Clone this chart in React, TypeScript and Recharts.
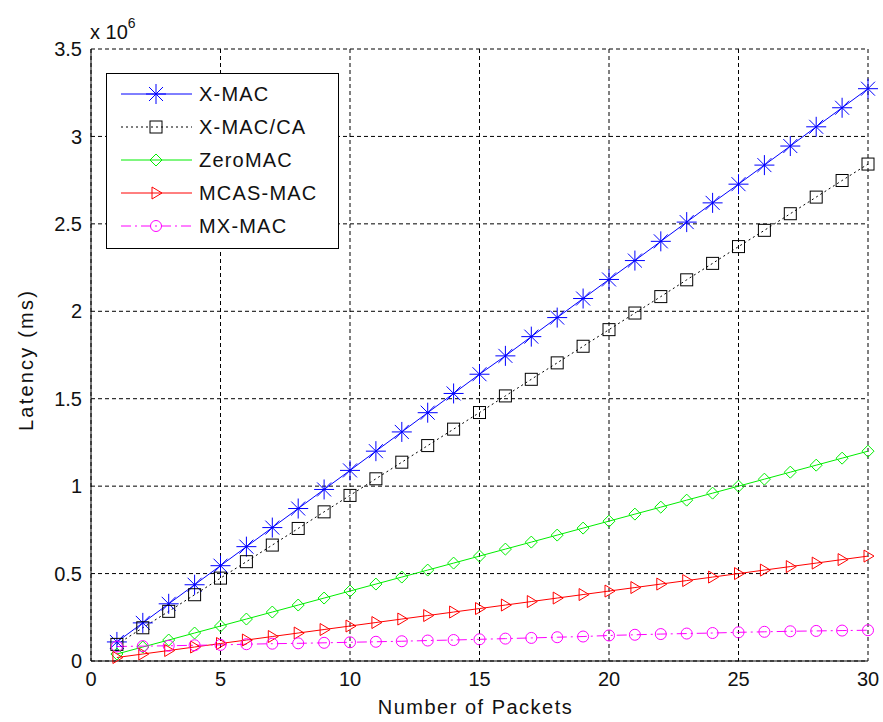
import React from 'react';
import { LineChart, Line, XAxis, YAxis, CartesianGrid } from 'recharts';

// values in units of 10^6 ms
const packets = [1, 2, 3, 4, 5, 6, 7, 8, 9, 10, 11, 12, 13, 14, 15, 16, 17, 18, 19, 20, 21, 22, 23, 24, 25, 26, 27, 28, 29, 30];
const xmac = [0.109, 0.218, 0.327, 0.436, 0.545, 0.654, 0.763, 0.872, 0.981, 1.09, 1.2, 1.31, 1.42, 1.53, 1.64, 1.745, 1.855, 1.964, 2.073, 2.182, 2.29, 2.4, 2.51, 2.62, 2.727, 2.836, 2.945, 3.055, 3.164, 3.273];
const xmacCa = [0.095, 0.19, 0.284, 0.379, 0.474, 0.568, 0.663, 0.758, 0.853, 0.947, 1.042, 1.137, 1.232, 1.326, 1.421, 1.516, 1.611, 1.705, 1.8, 1.895, 1.99, 2.084, 2.18, 2.274, 2.37, 2.463, 2.558, 2.653, 2.748, 2.842];
const zeroMac = [0.04, 0.08, 0.12, 0.16, 0.2, 0.24, 0.28, 0.32, 0.36, 0.4, 0.44, 0.48, 0.52, 0.56, 0.6, 0.64, 0.68, 0.72, 0.76, 0.8, 0.84, 0.88, 0.92, 0.96, 1.0, 1.04, 1.08, 1.12, 1.16, 1.2];
const mcasMac = [0.02, 0.04, 0.06, 0.08, 0.1, 0.12, 0.14, 0.16, 0.18, 0.2, 0.22, 0.24, 0.26, 0.28, 0.3, 0.32, 0.34, 0.36, 0.38, 0.4, 0.42, 0.44, 0.46, 0.48, 0.5, 0.52, 0.54, 0.56, 0.58, 0.6];
const mxMac = [0.083, 0.085, 0.087, 0.09, 0.092, 0.096, 0.099, 0.101, 0.104, 0.107, 0.11, 0.113, 0.117, 0.12, 0.124, 0.128, 0.132, 0.136, 0.14, 0.146, 0.15, 0.154, 0.157, 0.16, 0.164, 0.167, 0.17, 0.172, 0.174, 0.176];

const xTicks = [0, 5, 10, 15, 20, 25, 30];
const yTicks = [0, 0.5, 1, 1.5, 2, 2.5, 3, 3.5];

const data = packets.map((n, i) => ({
  n,
  xmac: xmac[i],
  xmacCa: xmacCa[i],
  zeroMac: zeroMac[i],
  mcasMac: mcasMac[i],
  mxMac: mxMac[i],
}));

const FONT = '"Liberation Sans", Arial, sans-serif';

type Kind = 'star' | 'square' | 'diamond' | 'tri' | 'circle';

const Marker = ({ kind, cx, cy, color }: { kind: Kind; cx: number; cy: number; color: string }) => {
  if (cx == null || cy == null) return null;
  const s = { stroke: color, strokeWidth: 1, fill: 'none' };
  switch (kind) {
    case 'star':
      return (
        <g {...s}>
          <line x1={cx - 10} y1={cy} x2={cx + 10} y2={cy} />
          <line x1={cx} y1={cy - 10} x2={cx} y2={cy + 10} />
          <line x1={cx - 7} y1={cy - 7} x2={cx + 7} y2={cy + 7} />
          <line x1={cx - 7} y1={cy + 7} x2={cx + 7} y2={cy - 7} />
        </g>
      );
    case 'square':
      return <rect x={cx - 6} y={cy - 6} width={12} height={12} {...s} />;
    case 'diamond':
      return <polygon points={`${cx},${cy - 6} ${cx + 6},${cy} ${cx},${cy + 6} ${cx - 6},${cy}`} {...s} />;
    case 'tri':
      return <polygon points={`${cx - 4},${cy - 6} ${cx + 6},${cy} ${cx - 4},${cy + 6}`} {...s} />;
    default:
      return <circle cx={cx} cy={cy} r={5.5} {...s} />;
  }
};

const series = [
  { key: 'xmac', name: 'X-MAC', color: '#0000ff', kind: 'star' as Kind, dash: undefined },
  { key: 'xmacCa', name: 'X-MAC/CA', color: '#000000', kind: 'square' as Kind, dash: '2 3' },
  { key: 'zeroMac', name: 'ZeroMAC', color: '#00ee00', kind: 'diamond' as Kind, dash: undefined },
  { key: 'mcasMac', name: 'MCAS-MAC', color: '#ff0000', kind: 'tri' as Kind, dash: undefined },
  { key: 'mxMac', name: 'MX-MAC', color: '#ff00ff', kind: 'circle' as Kind, dash: '10 4 2 4' },
];

const tickStyle = { fill: '#111', fontSize: 20, fontFamily: FONT };

export default function App() {
  return (
    <div style={{ position: 'absolute', left: 0, top: 0, width: 883, height: 722, background: '#fff', fontFamily: FONT }}>
      <LineChart width={883} height={722} data={data} margin={{ top: 49, right: 15, bottom: 0, left: 0 }}>
        <CartesianGrid stroke="#000" strokeDasharray="4 3" strokeWidth={1} />
        <XAxis
          dataKey="n"
          type="number"
          domain={[0, 30]}
          ticks={xTicks}
          height={61}
          tickSize={0}
          tickMargin={11}
          tick={tickStyle}
          axisLine={{ stroke: '#000' }}
          tickLine={false}
        />
        <YAxis
          type="number"
          domain={[0, 3.5]}
          ticks={yTicks}
          width={91}
          tickSize={0}
          tickMargin={9}
          tick={tickStyle}
          axisLine={{ stroke: '#000' }}
          tickLine={false}
        />
        {series.map((s) => (
          <Line
            key={s.key}
            dataKey={s.key}
            stroke={s.color}
            strokeWidth={1}
            strokeDasharray={s.dash}
            isAnimationActive={false}
            dot={(p: any) => <Marker key={`${s.key}-${p.index}`} kind={s.kind} cx={p.cx} cy={p.cy} color={s.color} />}
            activeDot={false}
          />
        ))}
      </LineChart>

      {/* exponent label */}
      <div style={{ position: 'absolute', left: 90, top: 18, fontSize: 20, color: '#111', whiteSpace: 'nowrap' }}>
        x&nbsp;10<sup style={{ fontSize: 14, position: 'relative', top: -3 }}>6</sup>
      </div>

      {/* axis titles */}
      <div style={{ position: 'absolute', left: 0, width: 883, top: 696, textAlign: 'center', fontSize: 20, letterSpacing: 1.5, color: '#111', paddingLeft: 68, boxSizing: 'border-box' }}>
        Number of Packets
      </div>
      <div style={{ position: 'absolute', left: 26, top: 360, transform: 'translate(-50%, -50%) rotate(-90deg)', fontSize: 20, letterSpacing: 2.2, color: '#111', whiteSpace: 'nowrap' }}>
        Latency (ms)
      </div>

      {/* legend */}
      <svg style={{ position: 'absolute', left: 106, top: 73 }} width={233} height={176}>
        <rect x={0.5} y={0.5} width={232} height={175} fill="#fff" stroke="#000" />
        {series.map((s, i) => {
          const y = 21 + i * 33;
          return (
            <g key={s.key}>
              <line x1={15} y1={y} x2={86} y2={y} stroke={s.color} strokeDasharray={s.dash} />
              <Marker kind={s.kind} cx={50} cy={y} color={s.color} />
              <text x={93} y={y} dominantBaseline="central" fontSize={20} letterSpacing={1.2} fill="#111" fontFamily={FONT}>
                {s.name}
              </text>
            </g>
          );
        })}
      </svg>
    </div>
  );
}
